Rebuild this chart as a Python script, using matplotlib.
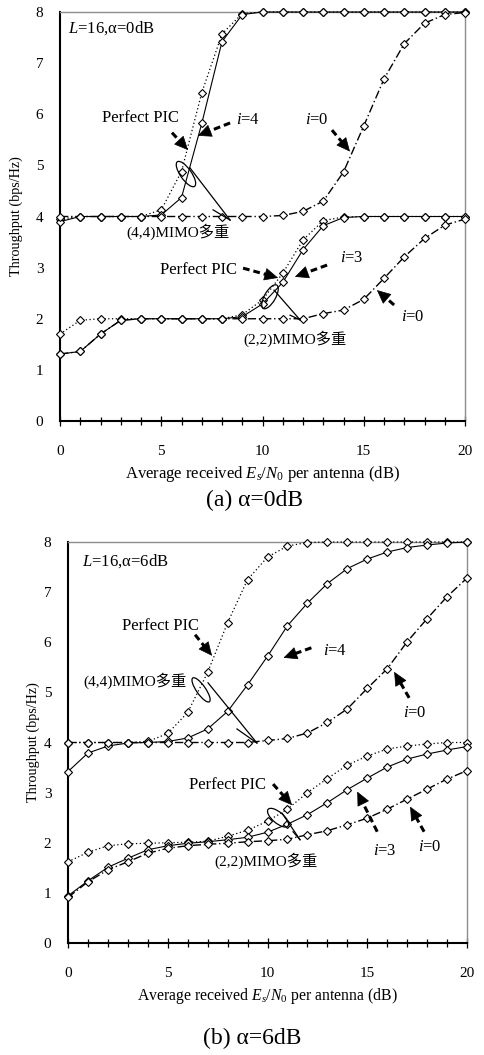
import numpy as np
import matplotlib.pyplot as plt
from matplotlib.patches import Ellipse
from matplotlib.transforms import ScaledTranslation
from matplotlib.ticker import MultipleLocator

plt.rcParams['font.family'] = ['Liberation Serif', 'Noto Sans CJK JP']
plt.rcParams['mathtext.fontset'] = 'custom'
plt.rcParams['mathtext.rm'] = 'Liberation Serif'
plt.rcParams['mathtext.it'] = 'Liberation Serif:italic'

snr = np.arange(0, 21)

# (a) alpha = 0dB
a_pic44 = [3.95, 4.0, 4.0, 4.0, 4.0, 4.13, 4.88, 6.42, 7.57, 7.97, 8.0,
           8.0, 8.0, 8.0, 8.0, 8.0, 8.0, 8.0, 8.0, 8.0, 8.0]
a_i4 = [3.9, 4.0, 4.0, 4.0, 4.0, 4.03, 4.37, 5.82, 7.42, 7.95, 8.0,
        8.0, 8.0, 8.0, 8.0, 8.0, 8.0, 8.0, 8.0, 8.0, 8.0]
a_i0_44 = [4.0, 4.0, 4.0, 4.0, 4.0, 4.0, 4.0, 4.0, 4.0, 4.0, 4.0,
           4.02, 4.1, 4.3, 4.87, 5.77, 6.69, 7.38, 7.78, 7.95, 7.99]
a_pic22 = [1.70, 1.97, 2.0, 2.0, 2.0, 2.0, 2.0, 2.0, 2.0, 2.08, 2.37,
           2.89, 3.54, 3.92, 3.99, 4.0, 4.0, 4.0, 4.0, 4.0, 4.0]
a_i3 = [1.31, 1.36, 1.70, 1.97, 2.0, 2.0, 2.0, 2.0, 2.0, 2.04, 2.29,
        2.71, 3.35, 3.82, 3.98, 4.0, 4.0, 4.0, 4.0, 4.0, 4.0]
a_i0_22 = [1.31, 1.36, 1.70, 1.97, 2.0, 2.0, 2.0, 2.0, 2.0, 2.0, 2.0,
           2.0, 2.0, 2.1, 2.17, 2.38, 2.79, 3.21, 3.57, 3.83, 3.95]

# (b) alpha = 6dB
b_pic44 = [4.0, 4.0, 4.0, 4.0, 4.02, 4.18, 4.6, 5.4, 6.39, 7.25, 7.7,
           7.92, 7.99, 8.0, 8.0, 8.0, 8.0, 8.0, 8.0, 8.0, 8.0]
b_i4 = [3.42, 3.79, 3.93, 3.99, 4.0, 4.02, 4.09, 4.27, 4.62, 5.15, 5.72,
        6.33, 6.78, 7.17, 7.47, 7.66, 7.80, 7.89, 7.94, 7.98, 8.0]
b_i0_44 = [4.0, 4.0, 4.0, 4.0, 4.0, 4.0, 4.0, 4.0, 4.0, 4.0, 4.04,
           4.08, 4.19, 4.4, 4.67, 5.08, 5.47, 6.01, 6.47, 6.91, 7.28]
b_pic22 = [1.62, 1.81, 1.94, 1.98, 1.99, 2.0, 2.01, 2.03, 2.13, 2.25, 2.43,
           2.67, 3.0, 3.28, 3.55, 3.73, 3.87, 3.93, 3.97, 4.0, 4.0]
b_i3 = [0.94, 1.24, 1.51, 1.69, 1.86, 1.94, 1.99, 2.02, 2.06, 2.11, 2.21,
        2.37, 2.56, 2.8, 3.06, 3.29, 3.51, 3.67, 3.77, 3.85, 3.92]
b_i0_22 = [0.91, 1.22, 1.46, 1.62, 1.79, 1.89, 1.94, 1.97, 1.99, 2.02, 2.04,
           2.07, 2.16, 2.24, 2.36, 2.49, 2.67, 2.87, 3.07, 3.27, 3.44]

PIC_LS = (0, (1, 2))
IT_LS = '-'
I0_LS = (0, (6, 2, 1, 2))

fig = plt.figure(figsize=(4.84, 10.55), dpi=100)
ax1 = fig.add_axes([60/484, 1-421/1055, 405/484, 409/1055])
ax2 = fig.add_axes([68/484, 1-943/1055, 399/484, 401/1055])


def setup(ax, ylab_x, xlab_size):
    ax.set_xlim(0, 20)
    ax.set_ylim(0, 8)
    ax.xaxis.set_major_locator(MultipleLocator(5))
    ax.xaxis.set_minor_locator(MultipleLocator(1))
    ax.yaxis.set_major_locator(MultipleLocator(1))
    ax.tick_params(axis='x', which='major', direction='inout', length=7,
                   width=0.9, pad=14, labelsize=11)
    ax.tick_params(axis='x', which='minor', direction='inout', length=6,
                   width=0.9)
    ax.tick_params(axis='y', length=0, pad=12, labelsize=11)
    for s in ['left', 'bottom']:
        ax.spines[s].set_linewidth(1.5)
        ax.spines[s].set_color('black')
    for s in ['top', 'right']:
        ax.spines[s].set_linewidth(1.0)
        ax.spines[s].set_color('#8c8c8c')
    ax.set_ylabel('Throughput (bps/Hz)', fontsize=10.2)
    ax.yaxis.set_label_coords(ylab_x, 0.5)
    ax.set_xlabel(r'Average received $E_s/N_0$ per antenna (dB)',
                  fontsize=xlab_size, labelpad=4)


def curves(ax, series):
    for y, ls, lw in series:
        ax.plot(snr, y, ls=ls, lw=lw, color='black', marker='D', ms=3.8,
                mfc='white', mec='black', mew=0.8, clip_on=False, zorder=3)


def arrow(ax, start, tip):
    # dashed shaft, solid triangular head
    sx, sy = ax.transData.transform(start)
    tx, ty = ax.transData.transform(tip)
    L = np.hypot(tx - sx, ty - sy)
    f = 9.0 / L
    hx, hy = tx - (tx - sx) * f, ty - (ty - sy) * f
    base = ax.transData.inverted().transform((hx, hy))
    ax.plot([start[0], base[0]], [start[1], base[1]], color='black', lw=2.2,
            dashes=(2.2, 1.3), solid_capstyle='butt', dash_capstyle='butt', zorder=5)
    ax.annotate('', xy=tip, xytext=base,
                arrowprops=dict(arrowstyle='-|>,head_length=0.75,head_width=0.35',
                                lw=0.5, color='black', shrinkA=0, shrinkB=0,
                                mutation_scale=12), zorder=5)


def callout(ax, center, w, h, ang, long_line, short_start):
    tr = fig.dpi_scale_trans + ScaledTranslation(center[0], center[1], ax.transData)
    ax.add_patch(Ellipse((0, 0), w, h, angle=ang, transform=tr, fill=False,
                         lw=0.9, ec='black', zorder=4))
    ax.plot([long_line[0][0], long_line[1][0]], [long_line[0][1], long_line[1][1]],
            color='black', lw=0.9, zorder=4)
    ax.plot([short_start[0], long_line[1][0]], [short_start[1], long_line[1][1]],
            color='black', lw=0.9, zorder=4)


setup(ax1, -0.091, 12)
setup(ax2, -0.070, 11.3)

curves(ax1, [(a_pic44, PIC_LS, 0.9), (a_i4, IT_LS, 0.8), (a_i0_44, I0_LS, 1.0),
             (a_pic22, PIC_LS, 0.9), (a_i3, IT_LS, 0.8), (a_i0_22, I0_LS, 1.0)])
curves(ax2, [(b_pic44, PIC_LS, 0.9), (b_i4, IT_LS, 0.8), (b_i0_44, I0_LS, 1.0),
             (b_pic22, PIC_LS, 0.9), (b_i3, IT_LS, 0.8), (b_i0_22, I0_LS, 1.0)])

lab = dict(fontsize=12, ha='center', va='center')
mimo = dict(fontsize=11, ha='center', va='center')

# ---- (a) annotations
ax1.text(0.4, 7.69, r'$L$=16,α=0dB', fontsize=12, ha='left', va='center')
ax1.text(4.0, 5.93, 'Perfect PIC', **lab)
arrow(ax1, (5.53, 5.64), (6.32, 5.30))
ax1.text(9.3, 5.89, r'$i$=4', **lab)
arrow(ax1, (8.4, 5.83), (6.8, 5.58))
ax1.text(12.7, 5.89, r'$i$=0', **lab)
arrow(ax1, (13.43, 5.69), (14.32, 5.27))
callout(ax1, (6.22, 4.83), 0.30, 0.11, -55, ((6.42, 4.95), (8.40, 3.93)), (7.56, 4.13))
ax1.text(5.83, 3.70, '(4,4)MIMO多重', **mimo)

ax1.text(6.86, 2.95, 'Perfect PIC', **lab)
arrow(ax1, (9.04, 2.99), (10.77, 2.80))
ax1.text(14.4, 3.19, r'$i$=3', **lab)
arrow(ax1, (13.19, 3.05), (11.6, 2.82))
ax1.text(17.4, 2.04, r'$i$=0', **lab)
arrow(ax1, (16.5, 2.27), (15.65, 2.56))
callout(ax1, (10.37, 2.43), 0.27, 0.11, 60, ((10.57, 2.56), (11.85, 1.98)), (11.36, 2.07))
ax1.text(11.6, 1.60, '(2,2)MIMO多重', **mimo)

# ---- (b) annotations
ax2.text(0.7, 7.62, r'$L$=16,α=6dB', fontsize=12, ha='left', va='center')
ax2.text(4.66, 6.33, 'Perfect PIC', **lab)
arrow(ax2, (6.37, 6.15), (7.22, 5.73))
ax2.text(3.36, 5.23, '(4,4)MIMO多重', **mimo)
callout(ax2, (6.67, 5.05), 0.29, 0.09, -55, ((7.02, 5.19), (9.47, 3.99)), (8.47, 4.27))
ax2.text(13.4, 5.83, r'$i$=4', **lab)
arrow(ax2, (12.2, 5.89), (10.8, 5.69))
ax2.text(17.4, 4.59, r'$i$=0', **lab)
arrow(ax2, (17.1, 4.89), (16.35, 5.41))

ax2.text(8.0, 3.15, 'Perfect PIC', **lab)
arrow(ax2, (10.28, 3.17), (11.23, 2.75))
callout(ax2, (10.53, 2.5), 0.26, 0.11, -40, ((10.73, 2.59), (11.63, 2.06)), (11.28, 2.22))
ax2.text(9.9, 1.64, '(2,2)MIMO多重', **mimo)
ax2.text(15.9, 1.84, r'$i$=3', **lab)
arrow(ax2, (15.5, 2.22), (14.5, 3.02))
ax2.text(18.15, 1.92, r'$i$=0', **lab)
arrow(ax2, (17.85, 2.22), (17.15, 2.72))

fig.text(254/484, 1-500/1055, '(a) α=0dB', fontsize=17, ha='center', va='center')
fig.text(252/484, 1-1038/1055, '(b) α=6dB', fontsize=17, ha='center', va='center')

fig.savefig('out.png', dpi=100)
